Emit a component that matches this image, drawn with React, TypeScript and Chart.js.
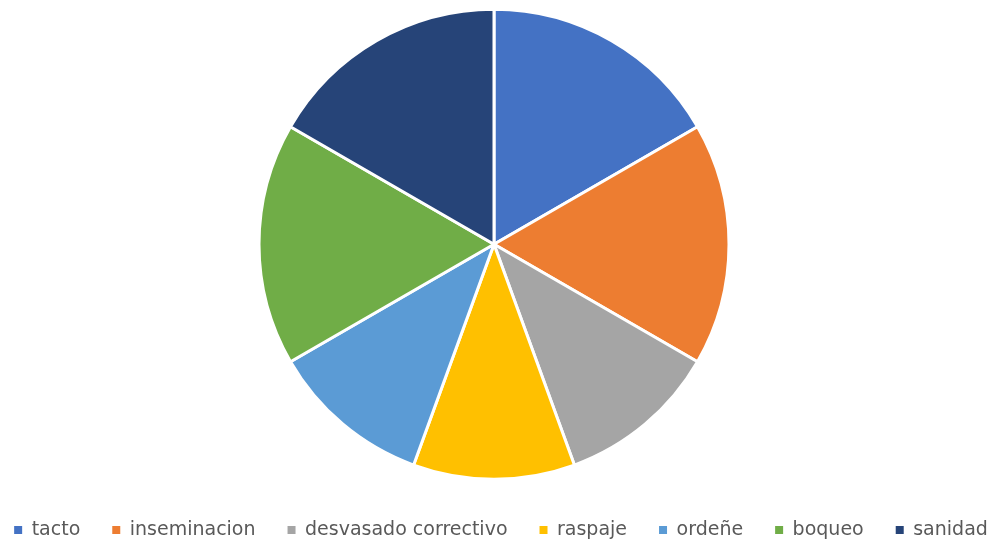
import React, { useEffect, useRef } from "react";
import { Chart, registerables } from "chart.js";

Chart.register(...registerables);

const categories = ["tacto", "inseminacion", "desvasado correctivo", "raspaje", "ordeñe", "boqueo", "sanidad"];
const values = [3, 3, 2, 2, 2, 3, 3];
const colors = ["#4472C4", "#ED7D31", "#A5A5A5", "#FFC000", "#5B9BD5", "#70AD47", "#264478"];

const layoutTweak = {
  id: "layoutTweak",
  afterLayout(chart: any) {
    if (chart.legend) {
      chart.legend.left += 10;
      chart.legend.right += 10;
    }
    if (chart.chartArea) {
      chart.chartArea.right -= 6;
      chart.chartArea.width = chart.chartArea.right - chart.chartArea.left;
    }
  },
};

export default function App() {
  const ref = useRef<HTMLCanvasElement | null>(null);
  useEffect(() => {
    if (!ref.current) return;
    const chart = new Chart(ref.current, {
      type: "pie",
      data: {
        labels: categories,
        datasets: [
          {
            data: values,
            backgroundColor: colors,
            borderColor: "#FFFFFF",
            borderWidth: 3,
            radius: 235,
          } as any,
        ],
      },
      options: {
        responsive: false,
        animation: false,
        layout: { padding: { top: -2.5, bottom: -6.5, left: -30, right: -18 } },
        plugins: {
          tooltip: { enabled: false },
          legend: {
            position: "bottom",
            labels: {
              boxWidth: 8,
              boxHeight: 8,
              padding: 32,
              color: "#595959",
              font: { family: "'DejaVu Sans', sans-serif", size: 19 },
              generateLabels(chart: any) {
                const items = Chart.overrides.pie.plugins.legend.labels.generateLabels(chart);
                return items.map((it: any) => ({ ...it, lineWidth: 0, strokeStyle: it.fillStyle }));
              },
            },
          },
        },
      },
      plugins: [layoutTweak],
    });
    return () => chart.destroy();
  }, []);
  return (
    <div style={{ position: "fixed", left: 0, top: 0, width: 994, height: 543, background: "#fff" }}>
      <canvas ref={ref} width={994} height={543} style={{ display: "block" }} />
    </div>
  );
}
